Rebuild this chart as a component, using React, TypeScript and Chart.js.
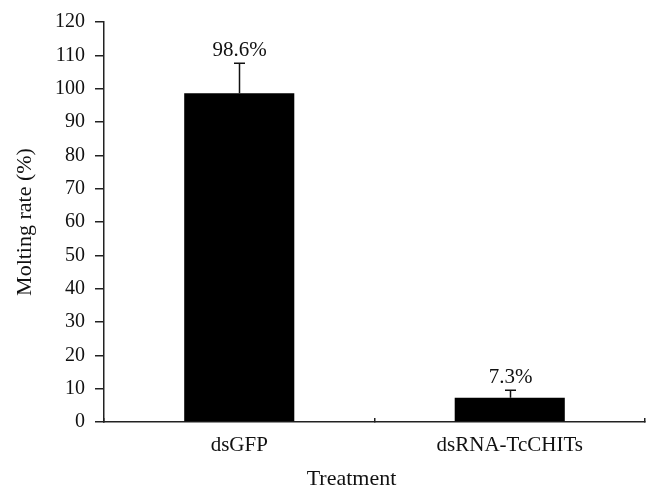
import { useEffect, useRef } from 'react';
import { Chart, registerables } from 'chart.js';

Chart.register(...registerables);

const categories = ['dsGFP', 'dsRNA-TcCHITs'];
const moltingRates = [98.6, 7.3];
const errorValues = [9.0, 2.2];
const valueLabels = ['98.6%', '7.3%'];
const yMin = 0;
const yMax = 120;
const yStep = 10;
const yTitle = 'Molting rate (%)';
const xTitle = 'Treatment';

const FONT = "'Liberation Serif', 'Times New Roman', serif";

const errorBarPlugin = {
  id: 'errorBarsAndLabels',
  afterDatasetsDraw(chart: any) {
    const ctx = chart.ctx;
    const meta = chart.getDatasetMeta(0);
    const yScale = chart.scales.y;
    ctx.save();
    meta.data.forEach((bar: any, i: number) => {
      const top = yScale.getPixelForValue(moltingRates[i] + errorValues[i]);
      const x = Math.round(bar.x) + 0.5;
      ctx.strokeStyle = '#111';
      ctx.lineWidth = 1.5;
      ctx.beginPath();
      ctx.moveTo(x, bar.y);
      ctx.lineTo(x, top);
      ctx.moveTo(x - 5.5, top);
      ctx.lineTo(x + 5.5, top);
      ctx.stroke();
      ctx.fillStyle = '#111';
      ctx.font = `21px ${FONT}`;
      ctx.textAlign = 'center';
      ctx.textBaseline = 'alphabetic';
      ctx.fillText(valueLabels[i], x, top - 7);
    });
    // x-axis title
    const xs = chart.scales.x;
    ctx.font = `22px ${FONT}`;
    ctx.textAlign = 'center';
    ctx.textBaseline = 'alphabetic';
    ctx.fillText(xTitle, (xs.left + xs.right) / 2 - 23, xs.bottom - 13);
    ctx.restore();
  },
};

export default function App() {
  const ref = useRef<HTMLCanvasElement>(null);
  useEffect(() => {
    if (!ref.current) return;
    const chart = new Chart(ref.current, {
      type: 'bar',
      data: {
        labels: categories,
        datasets: [
          {
            data: moltingRates,
            backgroundColor: '#000',
            borderWidth: 0,
            categoryPercentage: 1,
            barPercentage: 0.407,
          },
        ],
      },
      options: {
        responsive: false,
        animation: false,
        layout: { padding: { top: 20.5, right: 15, left: 0, bottom: 0 } },
        plugins: {
          legend: { display: false },
          tooltip: { enabled: false },
        },
        scales: {
          x: {
            grid: {
              display: true,
              drawOnChartArea: false,
              drawTicks: true,
              tickLength: -4,
              color: '#222',
              lineWidth: 1.5,
              offset: true,
            },
            border: { display: true, color: '#222', width: 1.5 },
            ticks: {
              color: '#111',
              font: { family: FONT, size: 21 },
              padding: 15,
            },
            afterFit(scale: any) {
              scale.height = 76;
            },
          },
          y: {
            min: yMin,
            max: yMax,
            grid: {
              display: true,
              drawOnChartArea: false,
              drawTicks: true,
              tickLength: 9,
              color: '#222',
              lineWidth: 1.5,
            },
            border: { display: true, color: '#222', width: 1.5 },
            ticks: {
              stepSize: yStep,
              color: '#111',
              font: { family: FONT, size: 20 },
              padding: 10,
            },
            title: {
              display: true,
              text: yTitle,
              color: '#111',
              font: { family: FONT, size: 22 },
              padding: { top: 12, bottom: 0 },
            },
            afterFit(scale: any) {
              scale.width = 104;
            },
          },
        },
      },
      plugins: [errorBarPlugin],
    });
    return () => chart.destroy();
  }, []);
  return (
    <div style={{ position: 'absolute', left: 0, top: 0, width: 660, height: 498, background: '#fff' }}>
      <canvas ref={ref} width={660} height={498} />
    </div>
  );
}
